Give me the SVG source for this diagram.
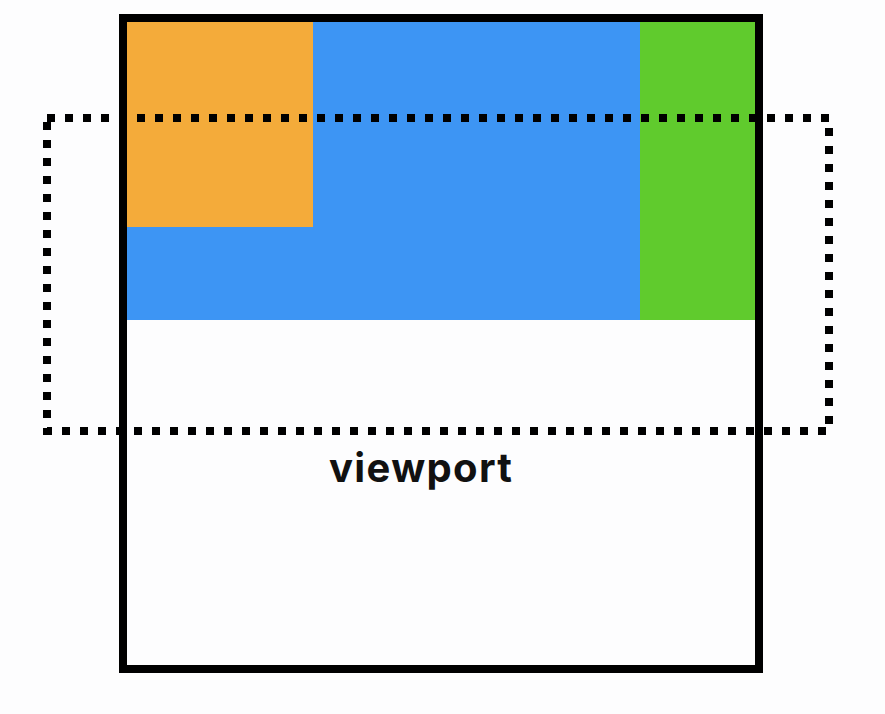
<svg xmlns="http://www.w3.org/2000/svg" width="885" height="714" viewBox="0 0 885 714">
<style>
.frame{fill:none;stroke:#000;stroke-width:8}
.dots{fill:none;stroke:#000;stroke-width:8;stroke-dasharray:8 10}
.label{font-family:"Inter","Open Sans",sans-serif;font-weight:700;font-size:40px;fill:#111}
</style>
<rect width="885" height="714" fill="#fdfdfe"/>
<g id="content">
<rect x="127" y="22" width="513" height="298" fill="#3d95f4"/>
<rect x="127" y="22" width="186" height="205" fill="#f4ab3a"/>
<rect x="640" y="22" width="115" height="298" fill="#60cb2d"/>
</g>
<g id="page"><rect class="frame" x="123" y="18" width="636" height="651"/></g>
<g id="viewport"><rect class="dots" x="47" y="118" width="782" height="313"/>
<text class="label" x="329" y="482" textLength="183" lengthAdjust="spacing">viewport</text></g>
</svg>
